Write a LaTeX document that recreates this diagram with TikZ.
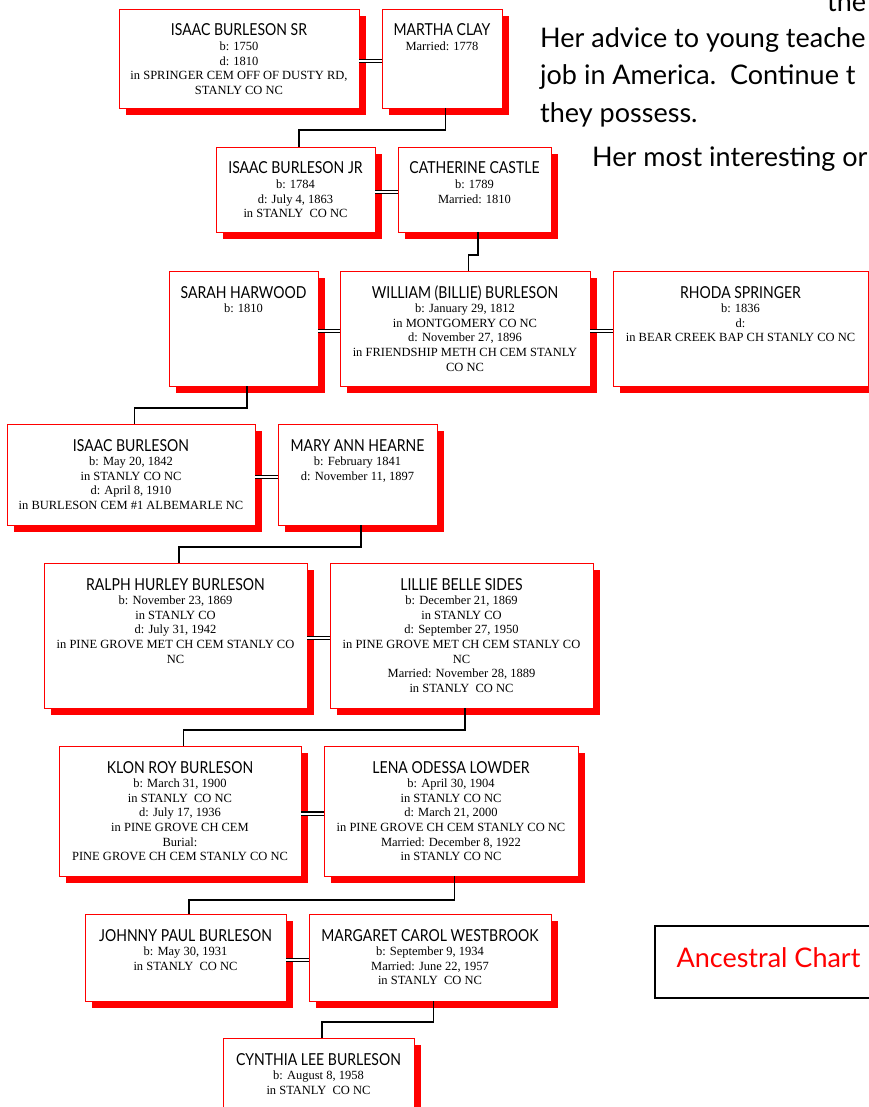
\documentclass[tikz,border=0pt]{standalone}
\usepackage{fontspec}
\setmainfont{Liberation Serif}
\newfontfamily\namefont[FakeStretch=0.85]{Lato}
\newfontfamily\prosefont{Lato}
\usetikzlibrary{shadows,calc}
\tikzset{
 pbox/.style={draw=red, line width=0.8pt, fill=white, inner sep=0pt, outer sep=0pt,
   drop shadow={shadow xshift=7pt, shadow yshift=-7pt, fill=red, opacity=1}},
 ptext/.style={inner sep=0pt, font=\fontsize{12.5}{14.6}\selectfont},
 conn/.style={draw=black, line width=1.3pt},
 wed/.style={draw=black, double=white, double distance=2pt, line width=1.1pt},
 prose/.style={anchor=base west, inner sep=0pt, font=\prosefont\fontsize{27}{30}\selectfont},
}
\newcommand\person[7]{%
 \node[pbox, minimum width=#4pt, minimum height=#5pt, anchor=north west] (#1) at (#2,#3) {};
 \node[ptext, anchor=base] (#1t) at ([yshift=-27pt]#1.north)
   {\begin{tabular}[t]{@{}c@{}}{\namefont\fontsize{16.5}{14.6}\selectfont #6}\\#7\end{tabular}};}
\begin{document}
\begin{tikzpicture}[x=1pt,y=-1pt]
\clip (0,0) rectangle (869,1107);
\fill[white] (0,0) rectangle (869,1107);
% prose
\node[prose] (p0) at (827,12) {the};
\node[prose] (p1) at (540,48) {Her advice to young teache};
\node[prose] (p2) at (540,85) {job in America.\ \ Continue t};
\node[prose] (p3) at (540,123) {they possess.};
\node[prose] (p4) at (592,167) {Her most interesting or};
% persons
\person{isr}{119}{9}{240}{99}{ISAAC BURLESON SR}{b: 1750\\d: 1810\\in SPRINGER CEM OFF OF DUSTY RD,\\STANLY CO NC}
\person{martha}{382}{9}{120}{99}{MARTHA CLAY}{Married: 1778}
\person{ijr}{216}{147}{159}{85}{ISAAC BURLESON JR}{b: 1784\\d: July 4, 1863\\in STANLY\ \ CO NC}
\person{cath}{398}{147}{153}{85}{CATHERINE CASTLE}{b: 1789\\Married: 1810}
\person{sarah}{169}{271}{149}{115}{SARAH HARWOOD}{b: 1810}
\person{william}{340}{271}{250}{115}{WILLIAM (BILLIE) BURLESON}{b: January 29, 1812\\in MONTGOMERY CO NC\\d: November 27, 1896\\in FRIENDSHIP METH CH CEM STANLY\\CO NC}
\person{rhoda}{613}{271}{255}{115}{RHODA SPRINGER}{b: 1836\\d:\\in BEAR CREEK BAP CH STANLY CO NC}
\person{isaac}{7}{424}{248}{101}{ISAAC BURLESON}{b: May 20, 1842\\in STANLY CO NC\\d: April 8, 1910\\in BURLESON CEM \#1 ALBEMARLE NC}
\person{mary}{278}{424}{159}{101}{MARY ANN HEARNE}{b: February 1841\\d: November 11, 1897}
\person{ralph}{44}{563}{263}{145}{RALPH HURLEY BURLESON}{b: November 23, 1869\\in STANLY CO\\d: July 31, 1942\\in PINE GROVE MET CH CEM STANLY CO\\NC}
\person{lillie}{330}{563}{263}{145}{LILLIE BELLE SIDES}{b: December 21, 1869\\in STANLY CO\\d: September 27, 1950\\in PINE GROVE MET CH CEM STANLY CO\\NC\\Married: November 28, 1889\\in STANLY\ \ CO NC}
\person{klon}{59}{746}{242}{130}{KLON ROY BURLESON}{b: March 31, 1900\\in STANLY\ \ CO NC\\d: July 17, 1936\\in PINE GROVE CH CEM\\Burial:\\PINE GROVE CH CEM STANLY CO NC}
\person{lena}{324}{746}{254}{130}{LENA ODESSA LOWDER}{b: April 30, 1904\\in STANLY CO NC\\d: March 21, 2000\\in PINE GROVE CH CEM STANLY CO NC\\Married: December 8, 1922\\in STANLY CO NC}
\person{johnny}{85}{914}{201}{87}{JOHNNY PAUL BURLESON}{b: May 30, 1931\\in STANLY\ \ CO NC}
\person{margaret}{309}{914}{242}{87}{MARGARET CAROL WESTBROOK}{b: September 9, 1934\\Married: June 22, 1957\\in STANLY\ \ CO NC}
\person{cynthia}{223}{1038}{191}{95}{CYNTHIA LEE BURLESON}{b: August 8, 1958\\in STANLY\ \ CO NC}
% marriages
\draw[wed] ([yshift=-2.5pt]isr.east) -- ([yshift=-2.5pt]martha.west);
\draw[wed] ([yshift=-2.5pt]ijr.east) -- ([yshift=-2.5pt]cath.west);
\draw[wed] ([yshift=-2.5pt]sarah.east) -- ([yshift=-2.5pt]william.west);
\draw[wed] ([yshift=-2.5pt]william.east) -- ([yshift=-2.5pt]rhoda.west);
\draw[wed] ([yshift=-2.5pt]isaac.east) -- ([yshift=-2.5pt]mary.west);
\draw[wed] ([yshift=-2.5pt]ralph.east) -- ([yshift=-2.5pt]lillie.west);
\draw[wed] ([yshift=-2.5pt]klon.east) -- ([yshift=-2.5pt]lena.west);
\draw[wed] ([yshift=-2.5pt]johnny.east) -- ([yshift=-2.5pt]margaret.west);
% descent
\draw[conn] ([xshift=3.5pt]martha.south) -- ++(0pt,-22pt) -| ([xshift=3.5pt]ijr.north);
\draw[conn] ([xshift=3.5pt]cath.south) -- ++(0pt,-23pt) -| ([xshift=3.5pt]william.north);
\draw[conn] ([xshift=3.5pt]sarah.south) -- ++(0pt,-22pt) -| ([xshift=3.5pt]isaac.north);
\draw[conn] ([xshift=3.5pt]mary.south) -- ++(0pt,-22pt) -| ([xshift=3.5pt]ralph.north);
\draw[conn] ([xshift=3.5pt]lillie.south) -- ++(0pt,-22pt) -| ([xshift=3.5pt]klon.north);
\draw[conn] ([xshift=3.5pt]lena.south) -- ++(0pt,-24pt) -| ([xshift=3.5pt]johnny.north);
\draw[conn] ([xshift=3.5pt]margaret.south) -- ++(0pt,-21pt) -| ([xshift=3.5pt]cynthia.north);
% title box
\node[draw=black, line width=1.5pt, minimum width=240pt, minimum height=72pt, anchor=north west, inner sep=0pt] (chartbox) at (654,925) {};
\node[inner sep=0pt, text=red, font=\prosefont\fontsize{27}{30}\selectfont] (charttitle) at (768.5,958) {Ancestral Chart};
\end{tikzpicture}
\end{document}
